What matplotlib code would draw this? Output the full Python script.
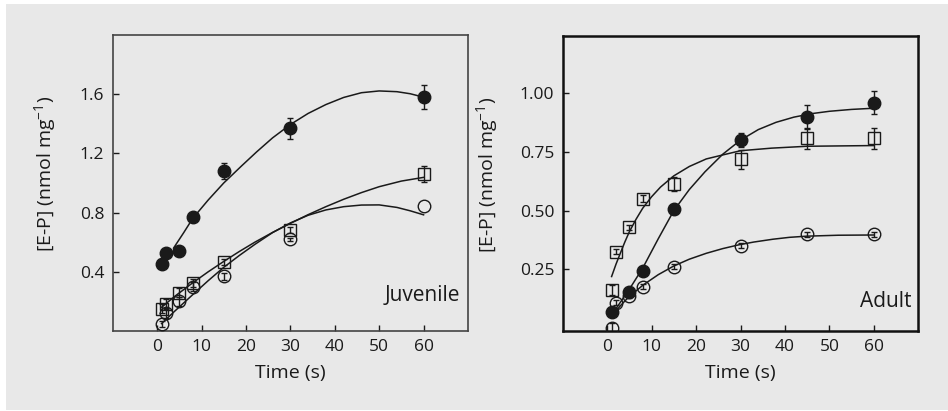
import matplotlib
matplotlib.use("Agg")
import matplotlib.pyplot as plt
from matplotlib.patches import Rectangle

plt.rcParams["font.family"] = ["Open Sans", "DejaVu Sans"]
plt.rcParams["mathtext.default"] = "regular"

# Juvenile
juv_t = [1, 2, 5, 8, 15, 30, 60]
juv_filled = [0.45, 0.53, 0.54, 0.77, 1.08, 1.37, 1.58]
juv_filled_err = [0.02, 0.02, 0.02, 0.02, 0.055, 0.07, 0.08]
juv_square = [0.15, 0.185, 0.26, 0.325, 0.465, 0.685, 1.06]
juv_square_err = [0.03, 0.03, 0.03, 0.025, 0.02, 0.02, 0.055]
juv_circle = [0.045, 0.12, 0.20, 0.30, 0.37, 0.62, 0.845]
juv_circle_err = [0.02, 0.03, 0.03, 0.03, 0.025, 0.01, 0.0]

# Juvenile fitted curves
juv_filled_fit_t = [3.7, 6, 8, 11.5, 15, 19, 22.4, 26, 30, 34, 38, 42, 46, 50, 54, 57, 60]
juv_filled_fit = [0.56, 0.665, 0.76, 0.885, 1.0, 1.115, 1.21, 1.305, 1.395, 1.47, 1.53,
                  1.578, 1.61, 1.622, 1.617, 1.603, 1.58]
juv_square_fit_t = [1, 4, 8, 11.5, 15, 18.5, 22, 26, 30, 34, 38, 42, 46, 50, 55, 60]
juv_square_fit = [0.16, 0.235, 0.325, 0.40, 0.47, 0.537, 0.60, 0.666, 0.727, 0.786, 0.84,
                  0.89, 0.935, 0.975, 1.013, 1.038]
juv_circle_fit_t = [1, 4, 8, 11.5, 15, 18.5, 22, 26, 30, 34, 38, 42, 46, 50, 54, 57, 60]
juv_circle_fit = [0.05, 0.135, 0.245, 0.34, 0.43, 0.51, 0.585, 0.665, 0.73, 0.782, 0.818,
                  0.84, 0.851, 0.852, 0.835, 0.812, 0.785]

# Adult
ad_t_filled = [1, 5, 8, 15, 30, 45, 60]
ad_filled = [0.067, 0.152, 0.243, 0.506, 0.801, 0.898, 0.96]
ad_filled_err = [0.01, 0.01, 0.01, 0.02, 0.03, 0.05, 0.05]
ad_t = [1, 2, 5, 8, 15, 30, 45, 60]
ad_square = [0.162, 0.325, 0.429, 0.55, 0.612, 0.719, 0.808, 0.808]
ad_square_err = [0.02, 0.01, 0.01, 0.015, 0.03, 0.04, 0.045, 0.045]
ad_circle = [0.0, 0.108, 0.138, 0.176, 0.261, 0.351, 0.399, 0.399]
ad_circle_err = [0.02, 0.01, 0.01, 0.01, 0.01, 0.01, 0.01, 0.01]

# Adult fitted curves
ad_filled_fit_t = [1, 3, 5, 8, 11.5, 15, 18.5, 22, 26, 30, 34, 38, 42, 46, 50, 55, 60]
ad_filled_fit = [0.055, 0.11, 0.165, 0.255, 0.38, 0.50, 0.59, 0.665, 0.74, 0.80, 0.845,
                 0.876, 0.898, 0.913, 0.923, 0.931, 0.936]
ad_square_fit_t = [1, 2, 3, 4, 5, 6.5, 8, 10, 12, 15, 18.5, 22.3, 26, 30, 37, 45, 60]
ad_square_fit = [0.219, 0.272, 0.32, 0.367, 0.41, 0.463, 0.51, 0.559, 0.60, 0.648, 0.688,
                 0.72, 0.737, 0.755, 0.766, 0.774, 0.777]
ad_circle_fit_t = [1, 3, 4.8, 8.1, 11.5, 15, 18.5, 22.3, 26, 29.6, 33, 37.3, 41, 44.9, 52, 60]
ad_circle_fit = [0.05, 0.095, 0.131, 0.183, 0.227, 0.264, 0.293, 0.318, 0.338, 0.354, 0.366,
                 0.378, 0.386, 0.391, 0.395, 0.396]

BG = "#e8e8e8"
INK = "#1a1a1a"
FS_TICK = 12.5
FS_LABEL = 14

fig = plt.figure(figsize=(9.48, 4.11), dpi=100)
fig.patch.set_facecolor("white")
fig.patches.append(Rectangle((6 / 948, 1 / 411), 1.0, (411 - 5) / 411, transform=fig.transFigure,
                             facecolor=BG, edgecolor="none", zorder=-10))

ax1 = fig.add_axes((112.7 / 948, 80 / 411, 355.3 / 948, 296 / 411))
ax2 = fig.add_axes((562.7 / 948, 80 / 411, 355.6 / 948, 295.3 / 411))


def draw_series(ax, t, y, err, marker, filled):
    face = INK if filled else "none"
    pts = [(a, b, e) for a, b, e in zip(t, y, err) if e > 0]
    ax.errorbar([p[0] for p in pts], [p[1] for p in pts], yerr=[p[2] for p in pts], fmt="none",
                ecolor=INK, elinewidth=1.0, capsize=2.2, capthick=1.0, zorder=3)
    ax.plot(t, y, linestyle="none", marker=marker, markersize=9.0 if marker == "o" else 8.2,
            markerfacecolor=face, markeredgecolor=INK, markeredgewidth=1.0, zorder=4)


def style_axes(ax, spine_color, spine_lw):
    ax.set_facecolor(BG)
    for s in ax.spines.values():
        s.set_color(spine_color)
        s.set_linewidth(spine_lw)
    ax.tick_params(direction="in", length=4.5, width=1.0, labelsize=FS_TICK, colors=INK, pad=6)
    ax.set_xlim(-10, 70)
    ax.set_xticks([0, 10, 20, 30, 40, 50, 60])
    ax.set_xlabel("Time (s)", fontsize=FS_LABEL, color=INK, labelpad=6)
    ax.set_ylabel("[E-P] (nmol mg$^{-1}$)", fontsize=FS_LABEL, color=INK)


# Juvenile panel
style_axes(ax1, "#444444", 1.2)
ax1.set_ylim(0.0, 2.0)
ax1.set_yticks([0.4, 0.8, 1.2, 1.6])
ax1.set_yticklabels(["0.4", "0.8", "1.2", "1.6"])
ax1.plot(juv_filled_fit_t, juv_filled_fit, color=INK, lw=1.1, zorder=2)
ax1.plot(juv_square_fit_t, juv_square_fit, color=INK, lw=1.1, zorder=2)
ax1.plot(juv_circle_fit_t, juv_circle_fit, color=INK, lw=1.1, zorder=2)
draw_series(ax1, juv_t, juv_filled, juv_filled_err, "o", True)
draw_series(ax1, juv_t, juv_square, juv_square_err, "s", False)
draw_series(ax1, juv_t, juv_circle, juv_circle_err, "o", False)
ax1.text(0.977, 0.10, "Juvenile", transform=ax1.transAxes, ha="right", va="baseline",
         fontsize=15, color=INK)
ax1.yaxis.set_label_coords(-0.154, 0.53)

# Adult panel
style_axes(ax2, "#111111", 1.8)
ax2.set_ylim(-0.013, 1.245)
ax2.set_yticks([0.25, 0.5, 0.75, 1.0])
ax2.set_yticklabels(["0.25", "0.50", "0.75", "1.00"])
ax2.plot(ad_filled_fit_t, ad_filled_fit, color=INK, lw=1.1, zorder=2)
ax2.plot(ad_square_fit_t, ad_square_fit, color=INK, lw=1.1, zorder=2)
ax2.plot(ad_circle_fit_t, ad_circle_fit, color=INK, lw=1.1, zorder=2)
draw_series(ax2, ad_t_filled, ad_filled, ad_filled_err, "o", True)
draw_series(ax2, ad_t, ad_square, ad_square_err, "s", False)
draw_series(ax2, ad_t, ad_circle, ad_circle_err, "o", False)
ax2.text(0.981, 0.082, "Adult", transform=ax2.transAxes, ha="right", va="baseline",
         fontsize=15, color=INK)
ax2.yaxis.set_label_coords(-0.176, 0.53)

fig.savefig("out.png", dpi=100, facecolor=fig.get_facecolor())
